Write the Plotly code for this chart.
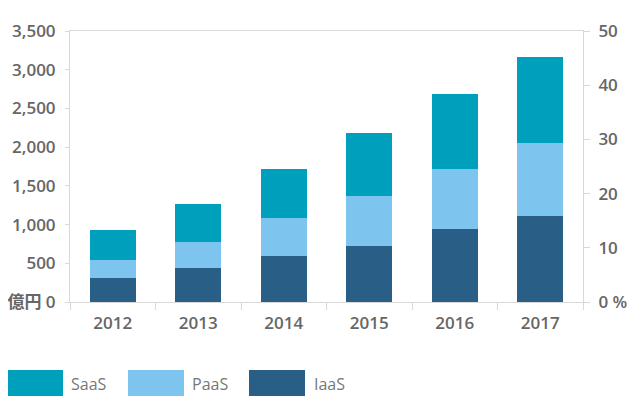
import plotly.graph_objects as go

years = ["2012", "2013", "2014", "2015", "2016", "2017"]
iaas = [310, 439, 594, 723, 943, 1111]
paas = [233, 336, 491, 647, 775, 943]
saas = [387, 491, 633, 813, 969, 1111]

left_ticks = [0, 500, 1000, 1500, 2000, 2500, 3000, 3500]
left_labels = ["億円 0", "500", "1,000", "1,500", "2,000", "2,500", "3,000", "3,500"]
right_ticks = [0, 10, 20, 30, 40, 50]
right_labels = ["0 %", "10", "20", "30", "40", "50"]

series = [("IaaS", iaas, "#295f86"), ("PaaS", paas, "#7dc5ee"), ("SaaS", saas, "#00a0bc")]

FONT = "Open Sans, Noto Sans CJK JP, sans-serif"
GRAY = "#666666"
LINE = "#d9d9d9"
TICKFONT = dict(size=17, family=FONT, color=GRAY, weight=600)

fig = go.Figure()
for name, vals, col in series:
    fig.add_trace(go.Bar(x=years, y=vals, name=name, marker=dict(color=col, line=dict(width=0)),
                         showlegend=False))
# empty trace so the right-hand axis is drawn
fig.add_trace(go.Scatter(x=[years[0]], y=[None], yaxis="y2", showlegend=False, hoverinfo="skip"))

# page body has an 8px offset; margins compensate so the plot area sits at x 70..583, y 31..302
fig.update_layout(
    width=640, height=420,
    margin=dict(l=62, r=65, t=23, b=126, autoexpand=False),
    barmode="stack", bargap=0.46,
    plot_bgcolor="white", paper_bgcolor="white",
    font=dict(family=FONT, color=GRAY, size=15),
    xaxis=dict(showline=True, linecolor=LINE, linewidth=1, mirror=True, automargin=False,
               ticks="outside", ticklen=7, tickcolor=LINE, tickson="boundaries",
               tickfont=TICKFONT,
               showgrid=False, zeroline=False, ticklabelstandoff=6),
    yaxis=dict(range=[0, 3500], tickvals=left_ticks, ticktext=left_labels, automargin=False,
               showline=True, linecolor=LINE, linewidth=1,
               ticks="outside", ticklen=4, tickcolor=LINE,
               tickfont=TICKFONT,
               showgrid=False, zeroline=False, ticklabelstandoff=6),
    yaxis2=dict(range=[0, 50], tickvals=right_ticks, ticktext=right_labels, automargin=False,
                overlaying="y", side="right", anchor="x",
                showline=True, linecolor=LINE, linewidth=1,
                ticks="outside", ticklen=6, tickcolor=LINE,
                tickfont=TICKFONT,
                showgrid=False, zeroline=False, ticklabelstandoff=5),
)

# legend drawn below the plot (paper coords: x=(px-70)/513, y=(302-py)/271)
W, H = 513.0, 271.0
legend_items = [("SaaS", "#00a0bc", 7, 63, 71), ("PaaS", "#7dc5ee", 128, 184, 192), ("IaaS", "#295f86", 249, 305, 314)]
for name, col, x0, x1, tx in legend_items:
    fig.add_shape(type="rect", xref="paper", yref="paper",
                  x0=(x0 - 70) / W, x1=(x1 - 70) / W,
                  y0=(302 - 370) / H, y1=(302 - 396) / H,
                  fillcolor=col, line=dict(width=0))
    fig.add_annotation(xref="paper", yref="paper", x=(tx - 72) / W, y=(302 - 384) / H,
                       text=name, showarrow=False, xanchor="left", yanchor="middle",
                       font=dict(size=16, family=FONT, color="#777777", weight=500))

fig.write_html("out.html")
